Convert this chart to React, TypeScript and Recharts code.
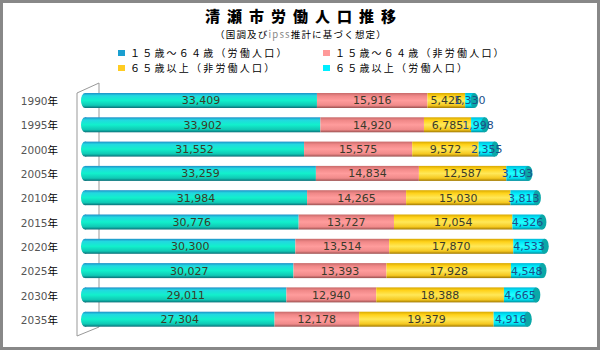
import { BarChart, Bar, XAxis, YAxis, LabelList } from 'recharts';

const years = ['1990年', '1995年', '2000年', '2005年', '2010年', '2015年', '2020年', '2025年', '2030年', '2035年'];
const workA = [33409, 33902, 31552, 33259, 31984, 30776, 30300, 30027, 29011, 27304]; // 15-64 労働
const nonA = [15916, 14920, 15575, 14834, 14265, 13727, 13514, 13393, 12940, 12178]; // 15-64 非労働
const nonB = [5426, 6785, 9572, 12587, 15030, 17054, 17870, 17928, 18388, 19379]; // 65+ 非労働
const workB = [1330, 1998, 2355, 3193, 3813, 4326, 4533, 4548, 4665, 4916]; // 65+ 労働

const data = years.map((y, i) => ({ year: y, workA: workA[i], nonA: nonA[i], nonB: nonB[i], workB: workB[i] }));

const SERIES = [
  { key: 'workA', name: '１５歳～６４歳（労働人口）', grad: 'gTeal', swatch: '#1a9fd0' },
  { key: 'nonA', name: '１５歳～６４歳（非労働人口）', grad: 'gPink', swatch: '#ff9999' },
  { key: 'nonB', name: '６５歳以上（非労働人口）', grad: 'gYellow', swatch: '#ffcc22' },
  { key: 'workB', name: '６５歳以上（労働人口）', grad: 'gCyan', swatch: '#00eeff' },
];

const JP = '"Noto Sans CJK JP", sans-serif';
const NUM = '"DejaVu Sans", sans-serif';

function makeShape(grad: string, first: boolean, last: boolean) {
  return (props: any) => {
    const { x, y, width, height } = props;
    if (!width || width <= 0) return null;
    const r = 4;
    return (
      <g>
        <rect x={x} y={y} width={width} height={height} fill={`url(#${grad})`} />
        {first && <ellipse cx={x} cy={y + height / 2} rx={r} ry={height / 2} fill={`url(#${grad})`} />}
        {last && <ellipse cx={x + width} cy={y + height / 2} rx={r} ry={height / 2} fill="#0aa8a8" />}
      </g>
    );
  };
}

const YearTick = (props: any) => {
  const { x, y, payload } = props;
  const num = String(payload.value).replace('年', '');
  return (
    <text x={x - 19} y={y + 5} textAnchor="end" fontSize={10.5}>
      <tspan fill="#555" fontFamily={NUM}>{num}</tspan>
      <tspan fill="#000" fontFamily={JP}>年</tspan>
    </text>
  );
};

export default function App() {
  return (
    <div style={{ position: 'absolute', left: 0, top: 0, width: 600, height: 350, background: '#fff' }}>
      <div style={{ position: 'absolute', left: 0, top: 0, width: 594, height: 344, border: '3px solid #888' }} />
      <div style={{ position: 'absolute', top: 6, left: 4, width: 600, lineHeight: '20px', textAlign: 'center', fontFamily: JP, fontWeight: 900, fontSize: 15, letterSpacing: 7, color: '#000' }}>
        清瀬市労働人口推移
      </div>
      <div style={{ position: 'absolute', top: 28, left: 1, width: 600, lineHeight: '12px', textAlign: 'center', fontFamily: JP, fontSize: 9.5, letterSpacing: 1.2, color: '#000' }}>
        （国調及び<span style={{ color: '#888' }}>ipss</span>推計に基づく想定）
      </div>
      {SERIES.map((s, i) => (
        <div key={s.key} style={{ position: 'absolute', left: i % 2 === 0 ? 118 : 323, top: i < 2 ? 46 : 61, lineHeight: '13px', fontFamily: JP, fontSize: 10, letterSpacing: 2.2, color: '#000', display: 'flex', alignItems: 'center', whiteSpace: 'nowrap' }}>
          <span style={{ display: 'inline-block', width: 7, height: 6, background: s.swatch, marginRight: 5 }} />
          {s.name}
        </div>
      ))}
      <svg width={600} height={350} style={{ position: 'absolute', left: 0, top: 0 }}>
        <polyline points="77,336 77,93 99,83 99,327 77,336" fill="none" stroke="#999" strokeWidth={1} />
      </svg>
      <div style={{ position: 'absolute', left: 0, top: 0 }}>
        <BarChart width={600} height={350} data={data} layout="vertical" margin={{ top: 88, right: 29, bottom: 19, left: 0 }} barSize={15}>
          <defs>
            <linearGradient id="gTeal" x1="0" y1="0" x2="0" y2="1">
              <stop offset="0%" stopColor="#1f8fc8" />
              <stop offset="18%" stopColor="#22d8e0" />
              <stop offset="50%" stopColor="#12f0cc" />
              <stop offset="82%" stopColor="#10c8b4" />
              <stop offset="100%" stopColor="#0a6f78" />
            </linearGradient>
            <linearGradient id="gPink" x1="0" y1="0" x2="0" y2="1">
              <stop offset="0%" stopColor="#c86a6a" />
              <stop offset="20%" stopColor="#f08888" />
              <stop offset="50%" stopColor="#ff9c9c" />
              <stop offset="82%" stopColor="#f08a8a" />
              <stop offset="100%" stopColor="#9a5050" />
            </linearGradient>
            <linearGradient id="gYellow" x1="0" y1="0" x2="0" y2="1">
              <stop offset="0%" stopColor="#d8a800" />
              <stop offset="20%" stopColor="#ffd21a" />
              <stop offset="50%" stopColor="#ffe858" />
              <stop offset="82%" stopColor="#f5c820" />
              <stop offset="100%" stopColor="#a07800" />
            </linearGradient>
            <linearGradient id="gCyan" x1="0" y1="0" x2="0" y2="1">
              <stop offset="0%" stopColor="#00b8d8" />
              <stop offset="20%" stopColor="#00e8f8" />
              <stop offset="50%" stopColor="#20ffff" />
              <stop offset="82%" stopColor="#00e0f0" />
              <stop offset="100%" stopColor="#008a98" />
            </linearGradient>
          </defs>
          <XAxis type="number" domain={[0, 70000]} hide />
          <YAxis type="category" dataKey="year" width={85} axisLine={false} tickLine={false} tick={<YearTick />} interval={0} />
          {SERIES.map((s, i) => (
            <Bar key={s.key} dataKey={s.key} name={s.name} stackId="a" isAnimationActive={false}
              shape={makeShape(s.grad, i === 0, i === SERIES.length - 1)}>
              <LabelList dataKey={s.key} position="center" fontSize={11} fontFamily={NUM}
                fill={i === 3 ? '#1a4f8a' : '#3a3a2a'} formatter={(v: any) => Number(v).toLocaleString('en-US')} />
            </Bar>
          ))}
        </BarChart>
      </div>
    </div>
  );
}
